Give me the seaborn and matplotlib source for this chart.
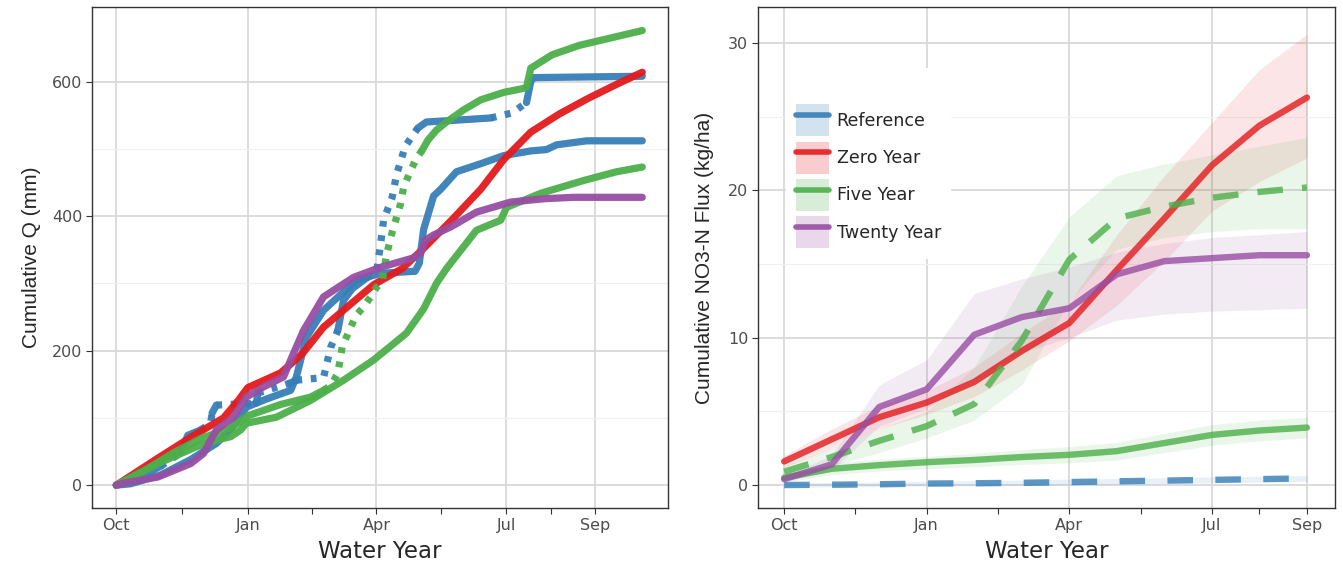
import matplotlib
matplotlib.use("Agg")
import numpy as np
import pandas as pd
import matplotlib.pyplot as plt
import seaborn as sns
from matplotlib.lines import Line2D
from matplotlib.patches import Patch
from matplotlib.legend_handler import HandlerTuple
from matplotlib.ticker import FixedLocator

# ---- colours (Set1) ----
BLUE = "#377EB8"
RED = "#E41A1C"
GREEN = "#4DAF4A"
PURPLE = "#984EA3"

# ---- left panel: cumulative Q (mm) vs day of water year ----
# flags: style of the segment ending at that point ('s' solid, 'd' dotted, 'g' gap)
red_days = [0, 29, 52, 75, 85, 92, 115, 130, 145, 160, 180, 200, 215, 235, 255, 271, 290, 310, 330, 350, 368]
red_q = [0, 40, 71, 100, 125, 145, 167, 195, 235, 262, 298, 322, 352, 395, 440, 484, 525, 552, 575, 596, 614]

purple_days = [0, 5, 29, 52, 61, 66, 70, 82, 91, 103, 117, 124, 131, 145, 166, 185, 208, 213, 216, 222, 234, 252, 276, 300, 320, 345, 368]
purple_q = [0, 3, 12, 32, 47, 67, 82, 101, 131, 146, 161, 196, 230, 280, 309, 324, 338, 345, 364, 372, 384, 406, 421, 426, 428, 428, 428]

blue_a_days = [0, 10, 31, 52, 70, 80, 91, 105, 122, 126, 133, 145, 168, 185, 209, 212, 215, 222, 227, 238, 255, 271, 290, 301, 308, 329, 368]
blue_a_q = [0, 2, 15, 38, 62, 82, 116, 128, 141, 161, 220, 260, 305, 315, 318, 330, 380, 430, 440, 466, 478, 490, 497, 499, 506, 512, 512]

blue_b_days = [0, 15, 31, 45, 50, 59, 66, 67, 70, 98, 99, 122, 126, 145, 150, 155, 159, 165, 175, 182, 185, 187,
               193, 196, 202, 206, 211, 217, 240, 262, 276, 280, 287, 290, 292, 330, 368]
blue_b_q = [0, 10, 28, 48, 74, 82, 92, 107, 119, 122, 137, 152, 156, 160, 205, 230, 275, 292, 308, 316, 360, 394,
            428, 461, 503, 516, 531, 540, 543, 546, 553, 558, 569, 600, 606, 607, 608]
blue_b_flag = list("sssdssddsdsdsdddsssddddddddsssdddsss")

green_c_days = [0, 29, 56, 70, 80, 87, 91, 112, 136, 159, 180, 203, 215, 224, 231, 245, 252, 269, 273, 297, 327, 350, 368]
green_c_q = [0, 32, 57, 67, 72, 82, 92, 101, 126, 156, 186, 226, 262, 300, 322, 360, 379, 394, 413, 434, 453, 466, 473]

green_d_days = [0, 20, 40, 60, 80, 92, 115, 136, 145, 150, 155, 158, 161, 164, 168, 173, 178, 182, 186, 189, 193,
                199, 201, 206, 210, 214, 218, 224, 231, 243, 255, 271, 285, 287, 290, 305, 324, 348, 368]
green_d_q = [0, 22, 48, 70, 85, 103, 120, 131, 141, 148, 166, 205, 220, 235, 253, 265, 280, 294, 302, 342, 376,
             419, 443, 468, 486, 498, 513, 528, 540, 558, 573, 584, 590, 592, 620, 640, 654, 666, 676]
green_d_flag = list("sssssssssdddddddddddddddddsssssssgssss")

left_ticks = [0, 92, 182, 273, 335]
left_minor = [46, 137, 227.5, 304]
month_labels = ["Oct", "Jan", "Apr", "Jul", "Sep"]

# ---- right panel: cumulative NO3-N flux, monthly ----
months = list(range(12))
ref_flux = [0.0, 0.02, 0.05, 0.1, 0.12, 0.15, 0.2, 0.25, 0.3, 0.35, 0.4, 0.45]
ref_lo = [-0.15, -0.12, -0.1, -0.05, -0.05, -0.03, 0.0, 0.05, 0.1, 0.15, 0.2, 0.25]
ref_hi = [0.15, 0.17, 0.2, 0.25, 0.3, 0.33, 0.4, 0.45, 0.5, 0.55, 0.6, 0.65]

zero_flux = [1.6, 3.1, 4.6, 5.6, 7.0, 9.1, 11.0, 14.6, 18.1, 21.7, 24.4, 26.3]
zero_lo = [1.2, 2.5, 3.8, 4.8, 6.0, 7.8, 9.8, 12.2, 15.2, 18.6, 20.6, 22.2]
zero_hi = [2.0, 3.8, 5.4, 6.4, 8.0, 10.3, 12.4, 17.0, 21.0, 24.6, 28.2, 30.6]

five_dash = [0.9, 1.9, 3.0, 4.0, 5.5, 9.8, 15.3, 18.1, 18.9, 19.5, 19.9, 20.2]
five_dash_lo = [0.5, 1.3, 2.2, 3.2, 4.4, 6.8, 12.5, 16.0, 16.8, 17.2, 17.4, 17.4]
five_dash_hi = [1.3, 2.5, 3.8, 5.0, 8.0, 13.5, 18.2, 21.0, 21.8, 22.4, 23.0, 23.6]

five_solid = [0.5, 1.1, 1.35, 1.55, 1.7, 1.9, 2.05, 2.3, 2.85, 3.4, 3.7, 3.9]
five_solid_lo = [0.2, 0.7, 0.95, 1.1, 1.25, 1.4, 1.5, 1.7, 2.2, 2.7, 3.0, 3.2]
five_solid_hi = [0.8, 1.5, 1.75, 1.95, 2.15, 2.4, 2.6, 2.9, 3.5, 4.1, 4.4, 4.6]

twenty_flux = [0.4, 1.4, 5.3, 6.5, 10.2, 11.4, 12.0, 14.3, 15.2, 15.4, 15.6, 15.6]
twenty_lo = [0.2, 1.0, 4.0, 5.2, 7.2, 9.0, 10.0, 11.2, 11.6, 11.8, 11.9, 12.0]
twenty_hi = [0.6, 2.0, 6.8, 8.5, 13.0, 14.0, 14.8, 15.8, 16.4, 16.8, 17.0, 17.2]

right_ticks = [0, 3, 6, 9, 11]
right_minor = [1.5, 4.5, 7.5, 10]
legend_names = ["Reference", "Zero Year", "Five Year", "Twenty Year"]

sns.set_theme(style="whitegrid")
plt.rcParams["font.family"] = ["DejaVu Sans"]


def style_axes(ax):
    ax.set_facecolor("white")
    for sp in ax.spines.values():
        sp.set_visible(True)
        sp.set_color("#333333")
        sp.set_linewidth(1.0)
    ax.grid(True, which="major", color="#D9D9D9", lw=1.3)
    ax.grid(True, which="minor", axis="y", color="#F0F0F0", lw=0.8)
    ax.tick_params(axis="both", which="major", length=4, width=0.8, color="#333333",
                   labelsize=11.5, labelcolor="#4D4D4D", pad=3, left=True, bottom=True)
    ax.tick_params(axis="x", which="minor", length=4, width=0.8, color="#333333", bottom=True)
    ax.set_axisbelow(True)


def draw_segments(ax, days, vals, flags, color):
    # split series into runs of identical segment style and draw each run
    i = 1
    n = len(days)
    while i < n:
        f = flags[i - 1] if flags is not None else "s"
        j = i
        while j + 1 < n and (flags[j] if flags is not None else "s") == f:
            j += 1
        if f != "g":
            seg = pd.DataFrame({"day": days[i - 1:j + 1], "q": vals[i - 1:j + 1]})
            ls = (0, (0.8, 1.2)) if f == "d" else "-"
            sns.lineplot(data=seg, x="day", y="q", ax=ax, color=color, lw=5.2, linestyle=ls,
                         estimator=None, sort=False, alpha=0.95, solid_capstyle="round")
        i = j + 1


fig = plt.figure(figsize=(13.43, 5.69), dpi=100)
ax1 = fig.add_axes([92 / 1343, 1 - 508 / 569, (668 - 92) / 1343, 501 / 569])
ax2 = fig.add_axes([758 / 1343, 1 - 508 / 569, (1335 - 758) / 1343, 501 / 569])

# left panel
style_axes(ax1)
draw_segments(ax1, blue_a_days, blue_a_q, None, BLUE)
draw_segments(ax1, blue_b_days, blue_b_q, blue_b_flag[1:] + ["s"], BLUE)
draw_segments(ax1, red_days, red_q, None, RED)
draw_segments(ax1, green_c_days, green_c_q, None, GREEN)
draw_segments(ax1, green_d_days, green_d_q, green_d_flag[1:] + ["s"], GREEN)
draw_segments(ax1, purple_days, purple_q, None, PURPLE)
ax1.set_xlim(-17, 386)
ax1.set_ylim(-34, 711)
ax1.set_xticks(left_ticks)
ax1.set_xticklabels(month_labels)
ax1.xaxis.set_minor_locator(FixedLocator(left_minor))
ax1.set_yticks([0, 200, 400, 600])
ax1.yaxis.set_minor_locator(FixedLocator([100, 300, 500]))
ax1.set_xlabel("Water Year", fontsize=16.5, labelpad=5)
ax1.set_ylabel("Cumulative Q (mm)", fontsize=15, labelpad=8, family=["Liberation Sans", "DejaVu Sans"])

# right panel
style_axes(ax2)
series = [
    (ref_flux, ref_lo, ref_hi, BLUE, (4, 3.5)),
    (zero_flux, zero_lo, zero_hi, RED, None),
    (five_dash, five_dash_lo, five_dash_hi, GREEN, (4, 3)),
    (five_solid, five_solid_lo, five_solid_hi, GREEN, None),
    (twenty_flux, twenty_lo, twenty_hi, PURPLE, None),
]
for vals, lo, hi, col, dash in series:
    ax2.fill_between(months, lo, hi, color=col, alpha=0.11, lw=0)
for vals, lo, hi, col, dash in series:
    d = pd.DataFrame({"month": months, "flux": vals})
    kw = {"dashes": dash} if dash else {}
    sns.lineplot(data=d, x="month", y="flux", ax=ax2, color=col, lw=4.6, alpha=0.8,
                 estimator=None, **kw)
ax2.set_xlim(-0.55, 11.59)
ax2.set_ylim(-1.56, 32.45)
ax2.set_xticks(right_ticks)
ax2.set_xticklabels(month_labels)
ax2.xaxis.set_minor_locator(FixedLocator(right_minor))
ax2.set_yticks([0, 10, 20, 30])
ax2.yaxis.set_minor_locator(FixedLocator([5, 15, 25]))
ax2.set_xlabel("Water Year", fontsize=16.5, labelpad=5)
ax2.set_ylabel("Cumulative NO3-N Flux (kg/ha)", fontsize=15, labelpad=10,
               family=["Liberation Sans", "DejaVu Sans"])

handles = []
for col in [BLUE, RED, GREEN, PURPLE]:
    handles.append((Patch(facecolor=col, alpha=0.22, lw=0),
                    Line2D([0], [0], color=col, lw=4.0, alpha=0.9)))
leg = ax2.legend(handles, legend_names, handler_map={tuple: HandlerTuple(ndivide=1, pad=0)},
                 loc="upper left", bbox_to_anchor=(0.033, 0.895), frameon=True, fontsize=12.6,
                 handlelength=1.85, handleheight=2.45, handletextpad=0.45, labelspacing=0.3,
                 borderpad=0.6, fancybox=False, title=" ", title_fontproperties={"size": 15})
leg.get_frame().set_facecolor("white")
leg.get_frame().set_edgecolor("none")
leg.get_frame().set_alpha(1)

fig.savefig("out.png", dpi=100)
